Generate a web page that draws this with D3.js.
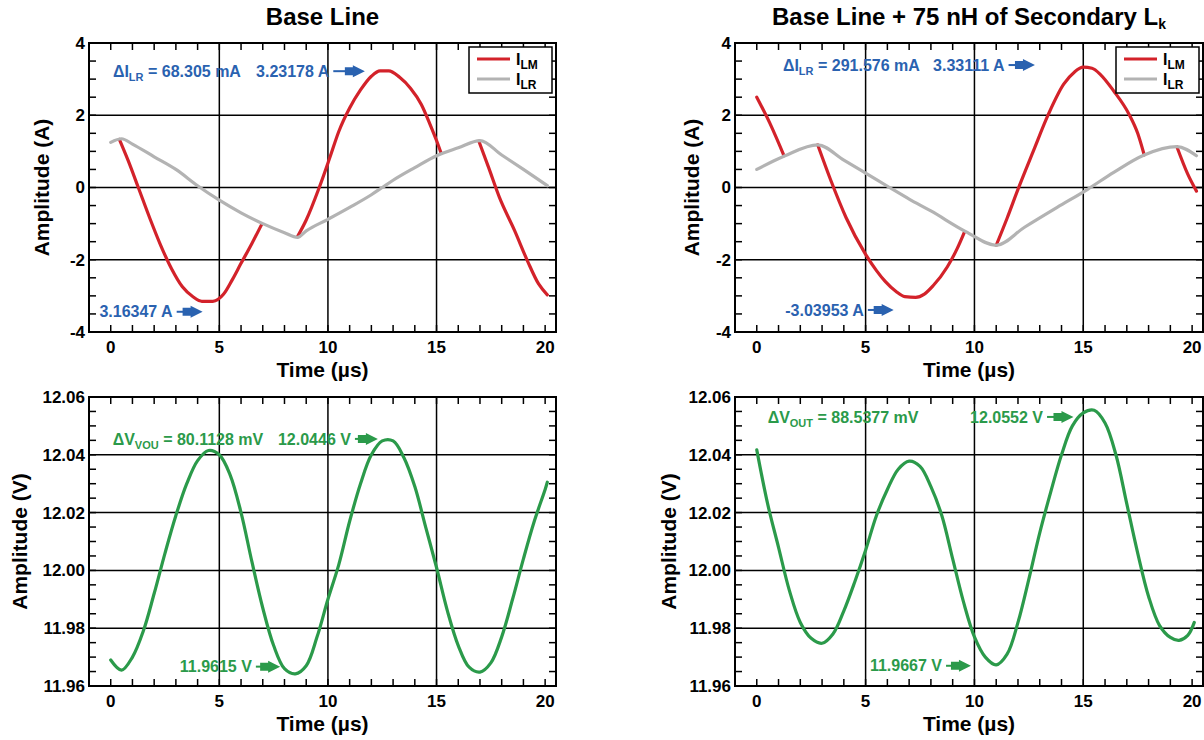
<!DOCTYPE html>
<html>
<head>
<meta charset="utf-8">
<script src="https://cdn.jsdelivr.net/npm/d3@7/dist/d3.min.js"></script>
<style>
  body { margin: 0; background: #fff; }
  svg text { font-family: "Liberation Sans", Arial, sans-serif; font-weight: bold; }
</style>
</head>
<body>
<svg id="chart" width="1204" height="740"></svg>
<script>
const timeDomain = [-1, 20.5];
const timeMajor = [0, 5, 10, 15, 20];
const ampDomain = [-4, 4];
const ampMajor = [-4, -2, 0, 2, 4];
const voltDomain = [11.96, 12.06];
const voltMajor = [11.96, 11.98, 12.00, 12.02, 12.04, 12.06];

// [time µs, current A]; null = gap (ILM hidden under ILR)
const baseIlr = [[0,1.25],[0.5,1.35],[1,1.2],[2,0.85],[3,0.5],[4,0.05],[5,-0.35],[6,-0.7],[7,-1.0],[8,-1.25],[8.6,-1.38],[9,-1.2],[10,-0.88],[11,-0.55],[12,-0.2],[12.5,0.0],[13,0.2],[14,0.55],[15,0.88],[16,1.1],[17,1.3],[18,0.9],[19,0.5],[20.1,0.05]];
const baseIlm = [[0.4,1.33],[0.8,0.75],[1.27,0],[1.8,-0.85],[2.3,-1.6],[2.8,-2.25],[3.3,-2.75],[3.8,-3.03],[4.2,-3.15],[4.7,-3.15],[5.2,-2.95],[5.6,-2.55],[6.0,-2.1],[6.5,-1.55],[6.95,-1.02],[7.5,null],[8.6,-1.36],[9.0,-0.9],[9.6,0],[10.1,0.85],[10.5,1.55],[11.0,2.2],[11.5,2.7],[12.0,3.08],[12.4,3.23],[12.8,3.23],[13.3,3.05],[13.8,2.75],[14.3,2.3],[14.7,1.75],[15.0,1.3],[15.2,0.97],[16,null],[16.95,1.28],[17.4,0.55],[17.9,-0.28],[18.6,-1.2],[19.2,-2.05],[19.7,-2.67],[20.1,-2.97]];

const lkIlr = [[0,0.5],[1.3,0.88],[2.8,1.18],[4,0.76],[5,0.4],[6.1,0.0],[7,-0.32],[8,-0.65],[9.6,-1.22],[11.0,-1.6],[12.3,-1.1],[13.8,-0.55],[15.2,-0.05],[16.4,0.42],[17.8,0.9],[19.3,1.13],[20.2,0.88]];
const lkIlm = [[0,2.5],[0.6,1.78],[1.25,0.88],[2,null],[2.8,1.18],[3.4,0.2],[4.1,-0.83],[5.0,-1.85],[5.5,-2.3],[5.9,-2.6],[6.4,-2.88],[6.8,-3.02],[7.3,-3.04],[7.7,-2.95],[8.1,-2.72],[8.75,-2.2],[9.2,-1.7],[9.55,-1.22],[10,null],[11.0,-1.6],[11.5,-0.85],[12.0,-0.05],[12.7,1.0],[13.4,2.03],[14.1,2.86],[14.6,3.2],[15.0,3.33],[15.4,3.3],[15.8,3.12],[16.4,2.67],[17.1,2.03],[17.5,1.5],[17.8,0.9],[18.5,null],[19.3,1.13],[19.8,0.37],[20.2,-0.1]];

// [time µs, output voltage V]
const baseVout = [[0,11.969],[0.5,11.9655],[1,11.970],[1.5,11.979],[2,11.992],[2.5,12.006],[3,12.019],[3.5,12.030],[4,12.038],[4.5,12.0415],[5,12.040],[5.5,12.033],[6,12.020],[6.5,12.003],[7,11.987],[7.5,11.974],[8,11.966],[8.5,11.9642],[9,11.967],[9.5,11.977],[10,11.990],[10.5,12.002],[11,12.017],[11.5,12.030],[12,12.040],[12.5,12.0448],[13,12.0448],[13.5,12.039],[14,12.029],[14.5,12.015],[15,12.001],[15.5,11.986],[16,11.974],[16.5,11.9665],[17,11.9648],[17.5,11.968],[18,11.977],[18.5,11.990],[19,12.004],[19.5,12.017],[20,12.028],[20.1,12.0305]];
const lkVout = [[0,12.0417],[0.5,12.023],[1,12.008],[1.5,11.993],[2,11.982],[2.5,11.9765],[3,11.9748],[3.5,11.978],[4,11.986],[4.5,11.996],[5,12.007],[5.5,12.019],[6,12.028],[6.5,12.035],[7,12.0378],[7.5,12.036],[8,12.029],[8.5,12.019],[9,12.004],[9.5,11.989],[10,11.977],[10.5,11.970],[11,11.9673],[11.5,11.971],[12,11.982],[12.5,11.997],[13,12.013],[13.5,12.027],[14,12.040],[14.5,12.050],[15,12.0545],[15.5,12.0554],[16,12.051],[16.5,12.040],[17,12.023],[17.5,12.006],[18,11.991],[18.5,11.981],[19,11.9768],[19.4,11.9758],[19.8,11.9775],[20.1,11.982]];

// annotations: text parts, anchor (time, value), optional arrow tip time
const baseIAnn = [
  { parts: [["ΔI"], ["LR", 1], [" = 68.305 mA"]], t: 0.1, v: 3.22 },
  { parts: [["3.23178 A"]], t: 6.69, v: 3.22, tip: 11.7 },
  { parts: [["3.16347 A"]], t: -0.52, v: -3.44, tip: 4.23 }
];
const lkIAnn = [
  { parts: [["ΔI"], ["LR", 1], [" = 291.576 mA"]], t: 1.2, v: 3.39 },
  { parts: [["3.33111 A"]], t: 8.1, v: 3.39, tip: 12.78 },
  { parts: [["-3.03953 A"]], t: 1.31, v: -3.39, tip: 6.29 }
];
const baseVAnn = [
  { parts: [["ΔV"], ["VOU", 1], [" = 80.1128 mV"]], t: 0.09, v: 12.0455 },
  { parts: [["12.0446 V"]], t: 7.7, v: 12.0455, tip: 12.3 },
  { parts: [["11.9615 V"]], t: 3.18, v: 11.9667, tip: 7.8 }
];
const lkVAnn = [
  { parts: [["ΔV"], ["OUT", 1], [" = 88.5377 mV"]], t: 0.5, v: 12.0531 },
  { parts: [["12.0552 V"]], t: 9.8, v: 12.0531, tip: 14.55 },
  { parts: [["11.9667 V"]], t: 5.2, v: 11.967, tip: 9.84 }
];

const RED = "#d3222a", GRAY = "#b3b3b3", BLUE = "#2a62b0", GREEN = "#2b9a4a";

const svg = d3.select("#chart");
let clipId = 0;

function panel(o) {
  const x = d3.scaleLinear().domain(timeDomain).range([o.left, o.right]);
  const y = d3.scaleLinear().domain(o.yDomain).range([o.bottom, o.top]);
  const g = svg.append("g");
  const midX = (o.left + o.right) / 2, midY = (o.top + o.bottom) / 2;

  // title
  if (o.title) {
    const tt = g.append("text").attr("x", midX).attr("y", 25)
      .attr("text-anchor", "middle").style("font-size", "24px");
    o.title.forEach(p => {
      const s = tt.append("tspan").text(p[0]);
      if (p[1]) s.style("font-size", "14px").attr("dy", 4);
    });
  }

  // grid lines
  g.selectAll(".vg").data(timeMajor.filter(t => t > 0 && t < 20)).enter().append("line")
    .attr("x1", d => x(d)).attr("x2", d => x(d)).attr("y1", o.top).attr("y2", o.bottom)
    .attr("stroke", "#000").attr("stroke-width", 1.5);
  g.selectAll(".hg").data(o.yMajor.slice(1, -1)).enter().append("line")
    .attr("x1", o.left).attr("x2", o.right).attr("y1", d => y(d)).attr("y2", d => y(d))
    .attr("stroke", "#000").attr("stroke-width", 1.5);

  // inward ticks on all four sides
  const tl = 7;
  const xt = d3.range(0, 21, 1);
  g.selectAll(".xtb").data(xt).enter().append("line")
    .attr("x1", d => x(d)).attr("x2", d => x(d)).attr("y1", o.bottom).attr("y2", o.bottom - tl)
    .attr("stroke", "#000").attr("stroke-width", 1.5);
  g.selectAll(".xtt").data(xt).enter().append("line")
    .attr("x1", d => x(d)).attr("x2", d => x(d)).attr("y1", o.top).attr("y2", o.top + tl)
    .attr("stroke", "#000").attr("stroke-width", 1.5);
  const n = Math.round((o.yDomain[1] - o.yDomain[0]) / o.yMinor);
  const yt = d3.range(n + 1).map(i => o.yDomain[0] + i * o.yMinor);
  g.selectAll(".ytl").data(yt).enter().append("line")
    .attr("x1", o.left).attr("x2", o.left + tl).attr("y1", d => y(d)).attr("y2", d => y(d))
    .attr("stroke", "#000").attr("stroke-width", 1.5);
  g.selectAll(".ytr").data(yt).enter().append("line")
    .attr("x1", o.right).attr("x2", o.right - tl).attr("y1", d => y(d)).attr("y2", d => y(d))
    .attr("stroke", "#000").attr("stroke-width", 1.5);

  // frame
  g.append("rect").attr("x", o.left).attr("y", o.top)
    .attr("width", o.right - o.left).attr("height", o.bottom - o.top)
    .attr("fill", "none").attr("stroke", "#000").attr("stroke-width", 2);

  // tick labels
  g.selectAll(".xl").data(timeMajor).enter().append("text")
    .attr("x", d => x(d)).attr("y", o.bottom + 15).attr("dy", "0.35em")
    .attr("text-anchor", "middle").style("font-size", "17px").text(d => d);
  g.selectAll(".yl").data(o.yMajor).enter().append("text")
    .attr("x", o.left - 4).attr("y", d => y(d)).attr("dy", "0.35em")
    .attr("text-anchor", "end").style("font-size", "17px").text(o.fmt);

  // axis titles
  g.append("text").attr("x", midX).attr("y", o.bottom + 38).attr("dy", "0.35em")
    .attr("text-anchor", "middle").style("font-size", "21px").text("Time (µs)");
  g.append("text").attr("transform", `translate(${o.yTitleX},${midY}) rotate(-90)`)
    .attr("dy", "0.35em").attr("text-anchor", "middle").style("font-size", "21px").text(o.yTitle);

  // curves
  const cid = "clip" + (clipId++);
  g.append("clipPath").attr("id", cid).append("rect")
    .attr("x", o.left).attr("y", o.top).attr("width", o.right - o.left).attr("height", o.bottom - o.top);
  const line = d3.line().defined(d => d[1] !== null)
    .x(d => x(d[0])).y(d => y(d[1])).curve(o.curve);
  const cg = g.append("g").attr("clip-path", `url(#${cid})`);
  o.series.forEach(s => {
    cg.append("path").datum(s.data).attr("d", line)
      .attr("fill", "none").attr("stroke", s.color).attr("stroke-width", 3.2)
      .attr("stroke-linejoin", "round").attr("stroke-linecap", "round");
  });

  // annotations
  o.ann.forEach(a => {
    const t = g.append("text").attr("x", x(a.t)).attr("y", y(a.v)).attr("dy", "0.35em")
      .attr("fill", o.annColor).style("font-size", "16px");
    a.parts.forEach((p, i) => {
      const s = t.append("tspan").text(p[0]);
      if (p[1]) s.style("font-size", "11px").attr("dy", 4);
      else if (i > 0 && a.parts[i - 1][1]) s.attr("dy", -4);
    });
    if (a.tip !== undefined) {
      const x0 = x(a.t) + t.node().getComputedTextLength() + 4;
      const xt2 = x(a.tip), yy = y(a.v);
      g.append("line").attr("x1", x0).attr("x2", xt2 - 16).attr("y1", yy).attr("y2", yy)
        .attr("stroke", o.annColor).attr("stroke-width", 2);
      g.append("path")
        .attr("d", `M${xt2 - 20},${yy - 4}L${xt2 - 12},${yy - 4}L${xt2 - 12},${yy - 6}L${xt2},${yy}L${xt2 - 12},${yy + 6}L${xt2 - 12},${yy + 4}L${xt2 - 20},${yy + 4}Z`)
        .attr("fill", o.annColor);
    }
  });

  // legend
  if (o.legend) {
    const lw = 83, lh = 46;
    const lx = o.right - 4 - lw, ly = o.top + 4;
    const lg = g.append("g");
    lg.append("rect").attr("x", lx).attr("y", ly).attr("width", lw).attr("height", lh)
      .attr("fill", "#fff").attr("stroke", "#000").attr("stroke-width", 1.5);
    o.legend.forEach((d, i) => {
      const yy = ly + 12 + i * 20;
      lg.append("line").attr("x1", lx + 8).attr("x2", lx + 41).attr("y1", yy).attr("y2", yy)
        .attr("stroke", d.color).attr("stroke-width", 3);
      const tx = lg.append("text").attr("x", lx + 47).attr("y", yy).attr("dy", "0.35em")
        .style("font-size", "16px");
      tx.append("tspan").text("I");
      tx.append("tspan").text(d.sub).style("font-size", "12px").attr("dy", 4);
    });
  }
}

const legendItems = [{ sub: "LM", color: RED }, { sub: "LR", color: GRAY }];
const smooth = d3.curveCatmullRom.alpha(0.5);

panel({ left: 89, right: 556, top: 43, bottom: 332, yDomain: ampDomain, yMajor: ampMajor, yMinor: 0.5,
  fmt: d => d, yTitle: "Amplitude (A)", yTitleX: 42, title: [["Base Line"]], curve: d3.curveMonotoneX,
  series: [{ data: baseIlm, color: RED }, { data: baseIlr, color: GRAY }],
  ann: baseIAnn, annColor: BLUE, legend: legendItems });
panel({ left: 735, right: 1203, top: 43, bottom: 332, yDomain: ampDomain, yMajor: ampMajor, yMinor: 0.5,
  fmt: d => d, yTitle: "Amplitude (A)", yTitleX: 692, curve: d3.curveMonotoneX,
  title: [["Base Line + 75 nH of Secondary L"], ["k", 1]],
  series: [{ data: lkIlm, color: RED }, { data: lkIlr, color: GRAY }],
  ann: lkIAnn, annColor: BLUE, legend: legendItems });
panel({ left: 89, right: 556, top: 397, bottom: 686, yDomain: voltDomain, yMajor: voltMajor, yMinor: 0.005,
  fmt: d3.format(".2f"), yTitle: "Amplitude (V)", yTitleX: 20, curve: smooth,
  series: [{ data: baseVout, color: GREEN }], ann: baseVAnn, annColor: GREEN });
panel({ left: 735, right: 1203, top: 397, bottom: 686, yDomain: voltDomain, yMajor: voltMajor, yMinor: 0.005,
  fmt: d3.format(".2f"), yTitle: "Amplitude (V)", yTitleX: 669, curve: smooth,
  series: [{ data: lkVout, color: GREEN }], ann: lkVAnn, annColor: GREEN });
</script>
</body>
</html>
